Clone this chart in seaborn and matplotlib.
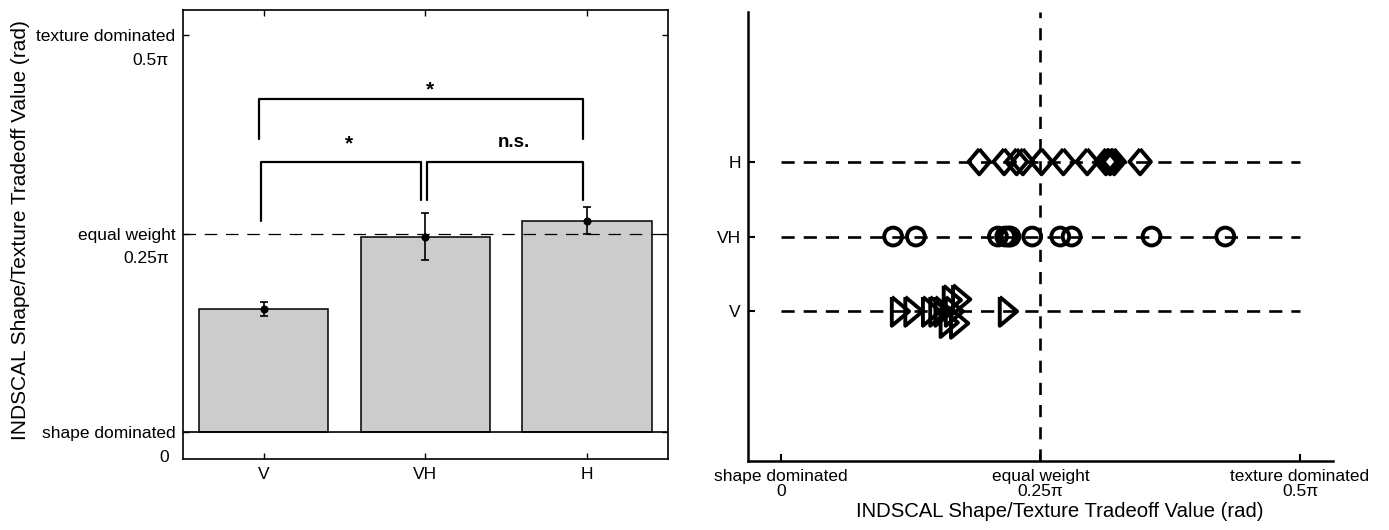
import numpy as np
import pandas as pd
import matplotlib
matplotlib.use("Agg")
import matplotlib.pyplot as plt
import seaborn as sns

# ---- data (tradeoff values in units of pi rad) ----
conditions = ["V", "VH", "H"]
mean_tradeoff = [0.1555, 0.2466, 0.2667]
sem_tradeoff = [0.0094, 0.030, 0.0168]

# individual subjects
subj_V = [0.113, 0.126, 0.143, 0.150, 0.155, 0.160, 0.163, 0.165, 0.170, 0.172, 0.217]
subj_V_shift = [0, 0, 0, 0, 0, -0.15, 0.15, 0, -0.16, 0.16, 0]
subj_VH = [0.108, 0.130, 0.209, 0.216, 0.219, 0.221, 0.242, 0.269, 0.280, 0.357, 0.428]
subj_H = [0.191, 0.215, 0.227, 0.233, 0.251, 0.272, 0.295, 0.313, 0.317, 0.321, 0.346]

tick_vals = [0, 0.25, 0.5]
dominance_labels = ["shape dominated", "equal weight", "texture dominated"]
pi_labels = ["0", "0.25\u03c0", "0.5\u03c0"]

# ---- style ----
sns.set_style("white")
plt.rcParams["font.family"] = ["Liberation Sans", "DejaVu Sans"]
plt.rcParams["axes.unicode_minus"] = False
plt.rcParams["text.color"] = "black"
plt.rcParams["axes.labelcolor"] = "black"

fig = plt.figure(figsize=(13.89, 5.30), dpi=100)
axL = fig.add_axes([0.1317, 0.134, 0.3492, 0.847])
axR = fig.add_axes([0.5385, 0.1302, 0.4212, 0.847])

# ================= left panel: group means =================
bar_df = pd.DataFrame({"condition": conditions, "value": mean_tradeoff})
sns.barplot(data=bar_df, x="condition", y="value", color="#cccccc",
            saturation=1, edgecolor="black", linewidth=1.1, width=0.8,
            errorbar=None, ax=axL, zorder=2)
xpos = np.arange(len(conditions))
axL.errorbar(xpos, mean_tradeoff, yerr=sem_tradeoff, fmt="o", color="black",
             ms=4.8, capsize=3, elinewidth=1.2, capthick=1.2, zorder=4)
axL.axhline(0, color="black", lw=1.2, zorder=3)
axL.axhline(0.25, color="black", lw=0.9, ls=(0, (10, 7)), zorder=3)

axL.set_xlim(-0.5, 2.5)
axL.set_ylim(-0.0334, 0.532)
axL.set_xticks(xpos, conditions)
axL.set_yticks(tick_vals, dominance_labels)
axL.tick_params(direction="in", length=4, width=1, top=True, right=True,
                left=True, bottom=True, labelsize=12.5, colors="black")
axL.tick_params(axis="y", pad=5.5)
axL.tick_params(axis="x", pad=6)
for s in axL.spines.values():
    s.set_color("black")
    s.set_linewidth(1.2)
for val, lab in zip(tick_vals, pi_labels):
    axL.annotate(lab, xy=(0, val), xycoords=("axes fraction", "data"),
                 xytext=(-10, -18), textcoords="offset points",
                 ha="right", va="center", fontsize=12.5)
axL.set_xlabel("")
axL.set_ylabel("INDSCAL Shape/Texture Tradeoff Value (rad)", fontsize=15,
               va="center")
axL.yaxis.set_label_coords(-0.334, 0.51)

# significance brackets
bk = dict(color="black", lw=1.6)
axL.plot([-0.028, -0.028, 1.972, 1.972], [0.370, 0.420, 0.420, 0.370], **bk)
axL.plot([-0.015, -0.015, 0.975, 0.975], [0.266, 0.341, 0.341, 0.293], **bk)
axL.plot([1.012, 1.012, 1.972, 1.972], [0.293, 0.341, 0.341, 0.293], **bk)
axL.text(1.025, 0.432, "*", ha="center", va="center", fontsize=15, fontweight="bold")
axL.text(0.53, 0.363, "*", ha="center", va="center", fontsize=15, fontweight="bold")
axL.text(1.545, 0.365, "n.s.", ha="center", va="center", fontsize=13.5, fontweight="bold")

# ================= right panel: individual subjects =================
rows = {"V": 1, "VH": 2, "H": 3}
axR.hlines(list(rows.values()), 0, 0.5, color="black", lw=1.9,
           linestyles=[(0, (5.0, 3.4))], zorder=1)
axR.axvline(0.25, color="black", lw=1.9, ls=(0, (4.6, 3.8)), zorder=1)

# closed outlines for the open triangle and diamond markers
tri = [(-0.45, 1.0), (-0.45, -1.0), (0.75, 0.0), (-0.45, 1.0)]
dia = [(0.0, 1.0), (0.85, 0.0), (0.0, -1.0), (-0.85, 0.0), (0.0, 1.0)]
mk = dict(color="black", facecolor="none", edgecolor="black", linewidth=2.8,
          zorder=3, ax=axR, legend=False)

sns.scatterplot(x=subj_V, y=[rows["V"] + d for d in subj_V_shift],
                marker=tri, s=430, **mk)
sns.scatterplot(x=subj_VH, y=[rows["VH"]] * len(subj_VH),
                marker="o", s=165, **mk)
sns.scatterplot(x=subj_H, y=[rows["H"]] * len(subj_H),
                marker=dia, s=330, **mk)

axR.set_xlim(-0.0318, 0.5318)
axR.set_ylim(-1, 5)
axR.set_yticks(list(rows.values()), list(rows.keys()))
axR.set_xticks(tick_vals, [f"{a}\n{b}" for a, b in zip(dominance_labels, pi_labels)])
for lab in axR.get_xticklabels():
    lab.set_linespacing(1.0)
axR.tick_params(direction="in", length=5, width=1.5, labelsize=12.5,
                colors="black", left=True, bottom=True)
axR.tick_params(axis="x", pad=6)
axR.tick_params(axis="y", pad=5, labelsize=12.5)
for side in ["top", "right"]:
    axR.spines[side].set_visible(False)
for side in ["left", "bottom"]:
    axR.spines[side].set_color("black")
    axR.spines[side].set_linewidth(1.8)
axR.set_xlabel("INDSCAL Shape/Texture Tradeoff Value (rad)", fontsize=14.6,
               va="top")
axR.xaxis.set_label_coords(0.533, -0.092)
axR.set_ylabel("")

fig.savefig("out.png", dpi=100, facecolor="white")
